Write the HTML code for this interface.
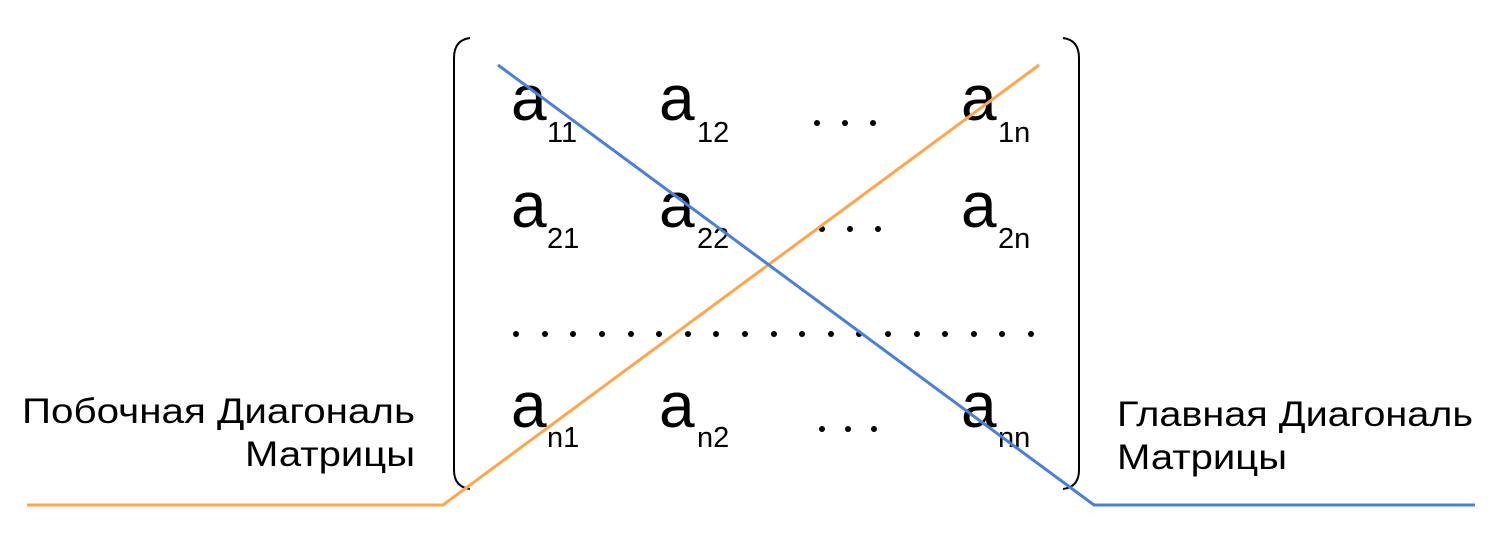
<!DOCTYPE html>
<html><head><meta charset="utf-8"><style>
html,body{margin:0;padding:0;background:#fff;}
svg{display:block;}
text{font-family:"Liberation Sans",sans-serif;fill:#000;}
.a{font-size:64px;}
.s{font-size:29px;}
.l{font-size:35px;}
</style></head><body>
<svg width="1511" height="543" viewBox="0 0 1511 543">
<path d="M470 38 Q454 40 454 58 L454 470 Q454 487 470 489" fill="none" stroke="#000" stroke-width="2"/>
<path d="M1063 38 Q1079 40 1079 58 L1079 470 Q1079 487 1063 489" fill="none" stroke="#000" stroke-width="2"/>
<text class="a" x="511" y="120">a</text><text class="s" x="547" y="142">11</text>
<text class="a" x="659" y="120">a</text><text class="s" x="697" y="142">12</text>
<text class="a" x="961" y="120">a</text><text class="s" x="998" y="142">1n</text>
<text class="a" x="511" y="227">a</text><text class="s" x="547" y="248">21</text>
<text class="a" x="659" y="227">a</text><text class="s" x="697" y="248">22</text>
<text class="a" x="961" y="227">a</text><text class="s" x="998" y="248">2n</text>
<text class="a" x="511" y="427">a</text><text class="s" x="547" y="447">n1</text>
<text class="a" x="659" y="427">a</text><text class="s" x="697" y="447">n2</text>
<text class="a" x="961" y="427">a</text><text class="s" x="998" y="447">nn</text>
<g fill="#000">
<circle cx="817" cy="123" r="3"/><circle cx="845" cy="123" r="3"/><circle cx="873" cy="123" r="3"/>
<circle cx="822" cy="229" r="3"/><circle cx="850" cy="229" r="3"/><circle cx="878" cy="229" r="3"/>
<circle cx="822" cy="429" r="3"/><circle cx="848" cy="429" r="3"/><circle cx="874" cy="429" r="3"/>
<circle cx="516" cy="334" r="3"/><circle cx="545" cy="334" r="3"/><circle cx="573" cy="334" r="3"/><circle cx="602" cy="334" r="3"/><circle cx="631" cy="334" r="3"/><circle cx="659" cy="334" r="3"/><circle cx="688" cy="334" r="3"/><circle cx="716" cy="334" r="3"/><circle cx="745" cy="334" r="3"/><circle cx="774" cy="334" r="3"/><circle cx="802" cy="334" r="3"/><circle cx="831" cy="334" r="3"/><circle cx="859" cy="334" r="3"/><circle cx="888" cy="334" r="3"/><circle cx="917" cy="334" r="3"/><circle cx="945" cy="334" r="3"/><circle cx="974" cy="334" r="3"/><circle cx="1002" cy="334" r="3"/><circle cx="1031" cy="334" r="3"/>
</g>
<polyline points="27,505 443,505 1039,65" fill="none" stroke="#ffa64d" stroke-width="3"/>
<polyline points="498,65 1094,505 1475,505" fill="none" stroke="#4a80d8" stroke-width="3"/>
<text class="l" x="22" y="423" textLength="393" lengthAdjust="spacingAndGlyphs">Побочная Диагональ</text>
<text class="l" x="245" y="466" textLength="170" lengthAdjust="spacingAndGlyphs">Матрицы</text>
<text class="l" x="1117" y="426" textLength="356" lengthAdjust="spacingAndGlyphs">Главная Диагональ</text>
<text class="l" x="1117" y="469" textLength="170" lengthAdjust="spacingAndGlyphs">Матрицы</text>
</svg>
</body></html>
